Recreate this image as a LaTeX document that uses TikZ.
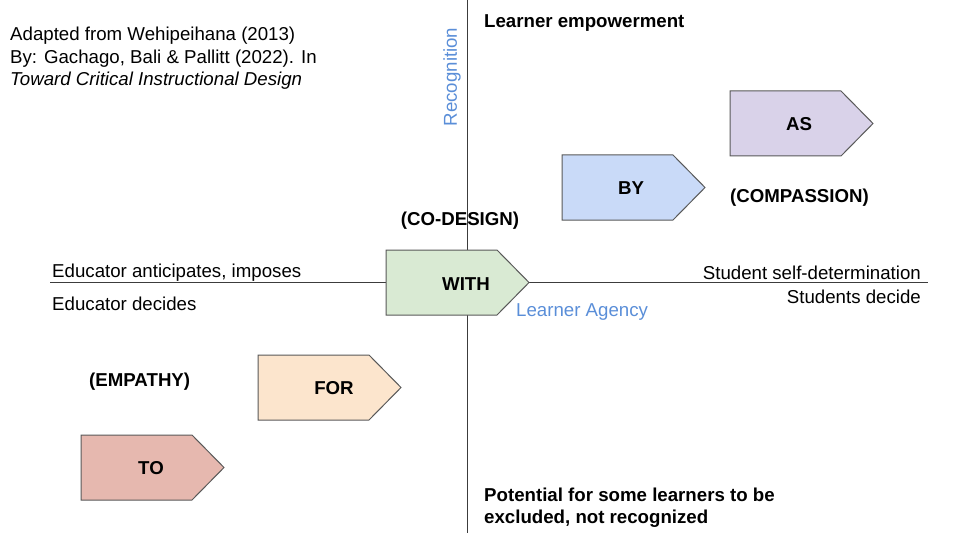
\documentclass[tikz,border=0pt]{standalone}
\usepackage{fontspec}
\setmainfont{Liberation Sans}
\definecolor{axisc}{HTML}{3C3C3C}
\definecolor{edgec}{HTML}{595959}
\definecolor{bluec}{HTML}{5A8ED8}
\definecolor{withc}{HTML}{D9EAD3}
\definecolor{byc}{HTML}{C9DAF8}
\definecolor{asc}{HTML}{D9D2E9}
\definecolor{forc}{HTML}{FCE5CD}
\definecolor{toc}{HTML}{E6B8AF}
\tikzset{
  axisline/.style={draw=axisc, line width=1pt},
  pentbox/.style={draw=edgec, line width=1pt},
  txt/.style={inner sep=0pt, yshift=-1.5pt, font=\fontsize{18.67}{22.4}\selectfont},
  btxt/.style={txt, font=\fontsize{18.67}{22.4}\selectfont\bfseries},
  plabel/.style={inner sep=0pt, yshift=-1pt, font=\fontsize{18.67}{22.4}\selectfont\bfseries},
  bluetxt/.style={txt, text=bluec},
  vbluetxt/.style={inner sep=0pt, rotate=90, text=bluec, font=\fontsize{18.67}{22.4}\selectfont},
}
\newcommand\mypent[4]{%
  \draw[pentbox, fill=#3] (#1,#2) -- ++(111,0) -- ++(32,32.5) -- ++(-32,32.5) -- ++(-111,0) -- cycle;}
\begin{document}
\begin{tikzpicture}[x=1pt,y=-1pt]
\useasboundingbox (0,0) rectangle (960,540);
% axes
\coordinate (vtop) at (467,0);
\coordinate (vbot) at (467,533);
\coordinate (hl) at (50,282);
\coordinate (hr) at (928,282);
\draw[axisline] (vtop) -- (vbot);
\draw[axisline] (hl) -- (hr);
% pentagons
\mypent{386}{250}{withc}{}
\mypent{562}{155}{byc}{}
\mypent{730}{91}{asc}{}
\mypent{258}{355}{forc}{}
\mypent{81}{435}{toc}{}
\node[plabel] (with) at (466,283) {WITH};
\node[plabel] (by) at (631,187) {BY};
\node[plabel] (as) at (799,123) {AS};
\node[plabel] (for) at (334,387) {FOR};
\node[plabel] (to) at (151,467) {TO};
% texts
\node[txt, anchor=west, align=left] (src) at (10,57) {Adapted from Wehipeihana (2013)\\By: Gachago, Bali \& Pallitt (2022). In\\\textit{Toward Critical Instructional Design}};
\node[btxt, anchor=west] (emp) at (484,22) {Learner empowerment};
\node[vbluetxt] (rec) at (452,77) {Recognition};
\node[btxt] (codes) at (460,219) {(CO-DESIGN)};
\node[btxt, anchor=west] (comp) at (730,196) {(COMPASSION)};
\node[btxt, anchor=west] (empa) at (89,380) {(EMPATHY)};
\node[txt, anchor=west] (edant) at (52,271) {Educator anticipates, imposes};
\node[txt, anchor=west] (eddec) at (52,302) {Educator decides};
\node[txt, anchor=east] (ssd) at (921,271) {Student self-determination};
\node[txt, anchor=east] (sdec) at (921,295) {Students decide};
\node[bluetxt, anchor=west] (agency) at (516,311) {Learner Agency};
\node[btxt, anchor=west, align=left] (pot) at (484,506) {Potential for some learners to be\\excluded, not recognized};
\end{tikzpicture}
\end{document}
